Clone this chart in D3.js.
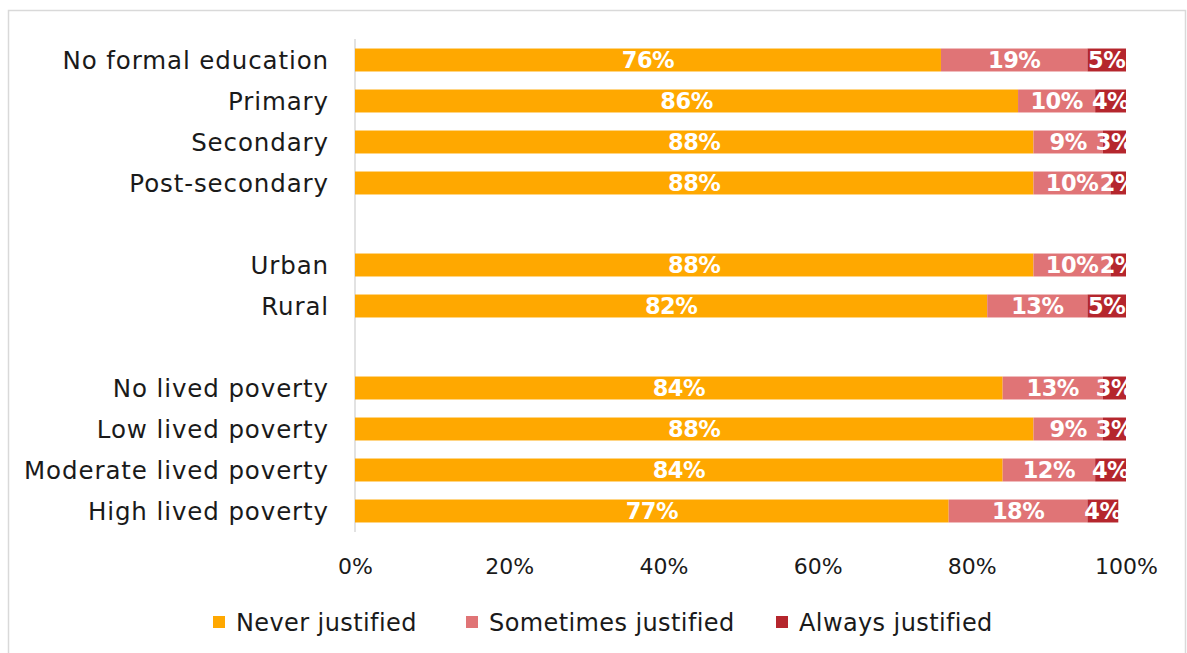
<!DOCTYPE html>
<html><head><meta charset="utf-8">
<script src="https://cdn.jsdelivr.net/npm/d3@7"></script>
<style>
html,body{margin:0;padding:0;background:#fff;}
svg{display:block;}
</style></head>
<body>
<svg id="chart" width="1187" height="653"></svg>
<script>
const categories = ["No formal education","Primary","Secondary","Post-secondary","",
  "Urban","Rural"," ","No lived poverty","Low lived poverty","Moderate lived poverty","High lived poverty"];
const never     = [76,86,88,88,null,88,82,null,84,88,84,77];
const sometimes = [19,10,9,10,null,10,13,null,13,9,12,18];
const always    = [5,4,3,2,null,2,5,null,3,3,4,4];
const seriesNames = ["Never justified","Sometimes justified","Always justified"];
const colors = ["#FFA800","#E07476","#B5262D"];
const ticks = [0,20,40,60,80,100];

const svg = d3.select("#chart");
const font = "'Century Gothic','DejaVu Sans',sans-serif";

svg.append("rect").attr("x",8.5).attr("y",10.5).attr("width",1177).attr("height",660)
  .attr("fill","#fff").attr("stroke","#d9d9d9").attr("stroke-width",1.5);

const x = d3.scaleLinear().domain([0,100]).range([355,1126]);
const rows = categories.map((c,i)=>i+"");
const y = d3.scaleBand().domain(rows).range([39.5,531.5]).paddingInner(0.44).paddingOuter(0.22);

// axis line
svg.append("line").attr("x1",355).attr("x2",355).attr("y1",39).attr("y2",532)
  .attr("stroke","#d9d9d9").attr("stroke-width",1.5);

const data = categories.map((c,i)=>({cat:c,key:i+"",vals:[never[i],sometimes[i],always[i]]}))
  .filter(d=>d.vals[0]!=null);

const g = svg.append("g");
data.forEach(d=>{
  let cum=0;
  d.vals.forEach((v,j)=>{
    const x0=x(cum), x1=x(cum+v);
    g.append("rect").attr("x",x0).attr("y",y(d.key)).attr("width",x1-x0).attr("height",y.bandwidth())
      .attr("fill",colors[j]);
    g.append("text").attr("x",(x0+x1)/2).attr("y",y(d.key)+y.bandwidth()/2)
      .attr("dy","0.36em").attr("text-anchor","middle")
      .attr("font-family",font).attr("font-weight","bold").attr("font-size",22.5)
      .attr("letter-spacing",-0.5)
      .attr("fill","#fff").text(v+"%");
    cum+=v;
  });
  svg.append("text").attr("x",329).attr("y",y(d.key)+y.bandwidth()/2).attr("dy","0.36em")
    .attr("text-anchor","end").attr("font-family",font).attr("font-size",24.5)
    .attr("letter-spacing",0.9).attr("fill","#1a1a1a")
    .text(d.cat);
});

// x axis ticks
const xAxis = d3.axisBottom(x).tickValues(ticks).tickFormat(d=>d+"%").tickSize(0);
const ax = svg.append("g").attr("transform","translate(0,555)").call(xAxis);
ax.select(".domain").remove();
ax.selectAll("text").attr("font-family",font).attr("font-size",22).attr("fill","#1a1a1a").attr("dy","0.71em");

// legend
const legX = [213,466,776];
seriesNames.forEach((n,i)=>{
  svg.append("rect").attr("x",legX[i]).attr("y",616).attr("width",12).attr("height",12).attr("fill",colors[i]);
  svg.append("text").attr("x",legX[i]+23).attr("y",622).attr("dy","0.36em")
    .attr("font-family",font).attr("font-size",24).attr("letter-spacing",0.4).attr("fill","#1a1a1a").text(n);
});
</script>
</body></html>
